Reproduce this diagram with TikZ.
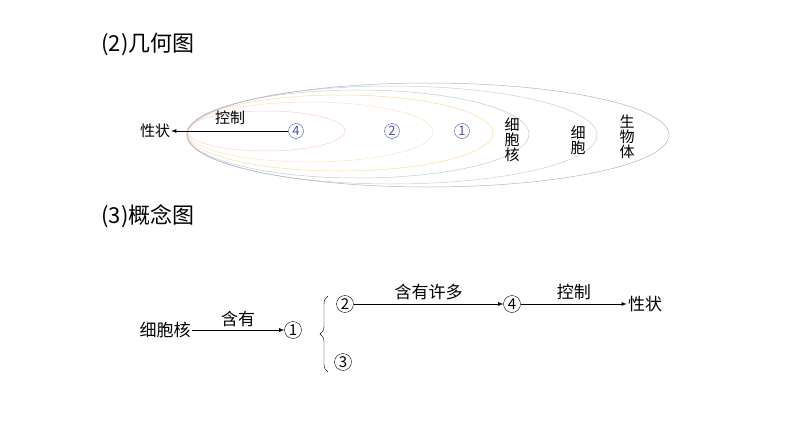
\documentclass[tikz,border=0pt]{standalone}
\usepackage{fontspec}
\setmainfont{Noto Sans CJK SC}
\usetikzlibrary{positioning,decorations.pathreplacing}
\begin{document}
\begin{tikzpicture}[x = 1pt, y = -1pt,
		label/.style={font=\fontsize{15}{15}\selectfont, inner sep = 1pt},
		title/.style={font=\fontsize{22}{22}\selectfont, anchor=west},
		num/.style={circle, draw, thin, inner sep = 0pt, minimum size = 15pt, font=\fontsize{13}{13}\selectfont, blue!40!gray},
		cnum/.style={circle, draw, thin, inner sep = 0pt, minimum size = 17pt, font=\fontsize{15}{15}\selectfont},
		big/.style={label, font=\fontsize{17}{17}\selectfont},
		arrow/.style={-latex, thick},
		ring/.style={line width = 0.5pt}
	]
	\useasboundingbox (0, 0) rectangle (794, 447);
	
	\node[title] (geo) at (98, 44) {(2)几何图};
	\node[title] (con) at (98, 216) {(3)概念图};
	
	% nested ellipses, all touching at the left
	\draw[ring, red!20] (266, 131) ellipse (79 and 20);
	\draw[ring, orange!25] (310, 132) ellipse (123 and 30);
	\draw[ring, yellow!40!orange!40] (340, 133) ellipse (153 and 38);
	\draw[ring, cyan!25!gray!50] (358, 134) ellipse (171 and 44);
	\draw[ring, gray!40] (392, 135) ellipse (205 and 49);
	\draw[ring, blue!20!gray!50] (428, 135) ellipse (241 and 52);
	
	\node[label] (trait) at (155, 131) {性状};
	\node[num] (four) at (296, 131) {4};
	\node[num] (two) at (392, 131) {2};
	\node[num] (one) at (462, 131) {1};
	\node[label, align=center] (nucleus) at (512, 140) {细\\胞\\核};
	\node[label, align=center] (cell) at (578, 140) {细\\胞};
	\node[label, align=center] (organism) at (627, 137) {生\\物\\体};
	\draw[arrow] (four) -- (trait);
	\node[label] at (230, 118) {控制};
	
	% concept map
	\node[big] (nuc) at (165, 330) {细胞核};
	\node[cnum] (c1) at (293, 330) {1};
	\node[cnum] (c2) at (345, 304) {2};
	\node[cnum] (c3) at (343, 362) {3};
	\node[cnum] (c4) at (512, 304) {4};
	\node[big] (ctrait) at (645, 304) {性状};
	
	\draw[arrow] (nuc) -- node[big, above = 2pt] {含有} (c1);
	\draw[arrow] (c2) -- node[big, above = 3pt] {含有许多} (c4);
	\draw[arrow] (c4) -- node[big, above = 3pt] {控制} (ctrait);
	\draw[decorate, decoration={brace, amplitude = 8pt}] (328, 372) -- (328, 296);
	
\end{tikzpicture}
\end{document}
